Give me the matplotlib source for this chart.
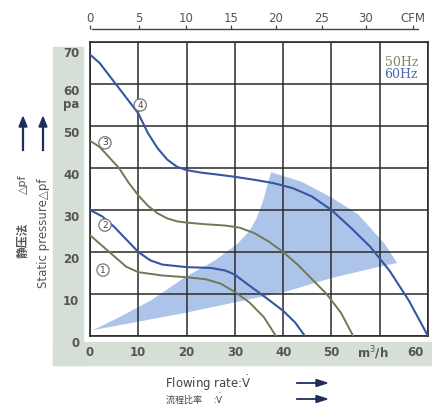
import matplotlib.pyplot as plt
from matplotlib.patches import Rectangle, Polygon

plt.rcParams['font.family'] = ['DejaVu Sans', 'Noto Sans CJK SC']

# Daten (m3/h , pa)
q4 = [0, 2, 5, 8, 10, 12, 14, 16, 18, 20, 23, 26, 30, 34, 38, 42, 46, 50, 54, 58, 62, 66, 70]
p4 = [67, 65, 60.5, 56, 53, 48.3, 44.7, 42, 40.3, 39.5, 38.9, 38.5, 37.9, 37.2, 36.4, 35.2, 33.2, 30, 25.8, 21.3, 15.6, 8.5, 0]

q3 = [0, 2, 4, 6, 8, 10, 12, 14, 16, 18, 20, 24, 28, 31, 34, 37, 40, 43, 46, 49, 52, 54.5]
p3 = [46.5, 45, 42.5, 40, 36.5, 33.5, 31, 29.2, 28, 27.3, 27, 26.6, 26.3, 25.8, 24.5, 22.5, 20, 17, 13.5, 10, 5.5, 0]

q2 = [0, 2.5, 5, 7.5, 10, 12.5, 15, 20, 25, 28, 30, 33, 36, 40, 42.5, 44.5]
p2 = [30, 28.5, 26, 23, 20, 18, 17, 16.4, 16.2, 15.6, 14.6, 12, 9.5, 6, 3.2, 0]

q1 = [0, 2.5, 5, 7.5, 10, 15, 20, 24, 27, 30, 33, 36, 38.5]
p1 = [24, 21.5, 19, 16.5, 15.2, 14.4, 14, 13.5, 12.5, 10.5, 8, 4.5, 0]

# Arbeitsbereich
area_q = [0.6, 5.8, 12.8, 19.7, 25.9, 30.6, 33, 34.5, 35.8, 37.5, 43.9, 50, 55.5, 61, 63.6,
          59.6, 50, 40.4, 30, 19.7]
area_p = [1.4, 4.3, 8.6, 14, 18, 22, 25, 28, 32, 39, 36.7, 33, 29, 22, 17.4,
          16.4, 13.8, 10.5, 8, 5.5]

x_labels = ['0', '10', '20', '30', '40', '50']
y_labels = ['0', '10', '20', '30', '40', '50', '60', '70']
cfm_pos = [0, 10.1, 19.9, 29.2, 38.5, 48.0, 57.1, 66.9]
cfm_labels = ['0', '5', '10', '15', '20', '25', '30', 'CFM']

c50 = '#6f7a55'
c60 = '#3556a0'
grau = '#555555'
navy = '#1f2d5a'

fig = plt.figure(figsize=(4.32, 4.12), dpi=100)

# graues L-Band hinter den Achsenbeschriftungen
band = '#d6dfd6'
fig.patches.append(Rectangle((53 / 432, 47 / 412), 30 / 432, 318 / 412,
                             transform=fig.transFigure, color=band, zorder=-2))
fig.patches.append(Rectangle((53 / 432, 47 / 412), 379 / 432, 23 / 412,
                             transform=fig.transFigure, color=band, zorder=-2))

ax = fig.add_axes([90 / 432, 76 / 412, 338 / 432, 294 / 412])
ax.set_xlim(0, 70)
ax.set_ylim(0, 70)
ax.set_facecolor('white')

ax.add_patch(Polygon(list(zip(area_q, area_p)), closed=True,
                     facecolor='#adc4ea', edgecolor='none', zorder=1))

ax.set_xticks(range(0, 71, 10))
ax.set_yticks(range(0, 71, 10))
ax.grid(True, color='#2a2a2a', lw=1.1, zorder=2)
ax.set_axisbelow(False)
ax.tick_params(length=0, labelbottom=False, labelleft=False)
for s in ax.spines.values():
    s.set_color('#2a2a2a')
    s.set_linewidth(1.2)

ax.plot(q1, p1, color=c50, lw=1.4, zorder=3)
ax.plot(q2, p2, color=c60, lw=1.5, zorder=3)
ax.plot(q3, p3, color=c50, lw=1.4, zorder=3)
ax.plot(q4, p4, color=c60, lw=1.5, zorder=3)

for n, (xq, yp) in zip(['1', '2', '3', '4'], [(2.7, 15.7), (3.1, 26.4), (3.1, 46), (10.4, 55)]):
    ax.text(xq, yp, n, fontsize=6.5, color='#444444', ha='center', va='center', zorder=4,
            bbox=dict(boxstyle='circle,pad=0.18', fc='white', ec='#777777', lw=0.9))

ax.text(61, 65, '50Hz', family='DejaVu Serif', fontsize=9, color='#7d8a5a', va='center')
ax.text(61, 62.2, '60Hz', family='DejaVu Serif', fontsize=9, color='#4a68b0', va='center')

# Achsenbeschriftungen
lab_kw = dict(ha='center', va='center', fontsize=8.5, fontweight='bold',
              color=grau, clip_on=False)
for i, lab in enumerate(x_labels):
    ax.text(i * 10, -4, lab, **lab_kw)
ax.text(58.5, -4, 'm$^3$/h', **lab_kw)
ax.text(67.3, -4, '60', **lab_kw)
lab_kw['ha'] = 'right'
for i, lab in enumerate(y_labels):
    ax.text(-2.2, i * 10 - 1.7 if i < 7 else 67.3, lab, **lab_kw)
ax.text(-2.2, 55.2, 'pa', **lab_kw)

# obere CFM-Achse
top = ax.secondary_xaxis('top')
top.set_xticks(cfm_pos)
top.set_xticklabels(cfm_labels)
top.tick_params(direction='out', length=3, width=0.9, color='#444444',
                labelsize=8.5, labelcolor=grau, pad=0.5)
top.spines['top'].set_position(('outward', 9))
top.spines['top'].set_bounds(0.5, 68)
top.spines['top'].set_color('#444444')
top.spines['top'].set_linewidth(1.0)

# linke Beschriftung mit Pfeilen
for xp in [23, 43]:
    fig.add_artist(plt.Line2D([xp / 432, xp / 432], [262 / 412, 287 / 412],
                              color=navy, lw=1.6, transform=fig.transFigure))
    fig.add_artist(Polygon([(xp / 432 - 4 / 432, 285 / 412), (xp / 432 + 4 / 432, 285 / 412),
                            (xp / 432, 295 / 412)], closed=True, color=navy,
                           transform=fig.transFigure))
fig.text(23 / 432, 1 - 184 / 412, '\u25b3pf', rotation=90, ha='center', va='center',
         fontsize=8, color=grau)
fig.text(23 / 432, 1 - 240 / 412, '静压法', rotation=90, ha='center', va='center',
         fontsize=8.5, color=grau, family=['Noto Sans CJK SC', 'DejaVu Sans'], fontweight='bold')
fig.text(43 / 432, 1 - 233 / 412, 'Static pressure\u25b3pf', rotation=90, ha='center',
         va='center', fontsize=8.5, color=grau)

# untere Beschriftung
fig.text(165 / 432, 1 - 383 / 412, 'Flowing rate:$\\dot{\\mathrm{V}}$', ha='left', va='center',
         fontsize=8.5, color='#444444')
fig.text(165 / 432, 1 - 399 / 412, '流程比率      :$\\dot{\\mathrm{V}}$', ha='left', va='center',
         fontsize=6.5, color='#444444', family=['Noto Sans CJK SC', 'DejaVu Sans'])
for yp in [383, 399]:
    fig.add_artist(plt.Line2D([297 / 432, 318 / 432], [1 - yp / 412, 1 - yp / 412],
                              color=navy, lw=1.3, transform=fig.transFigure))
    fig.add_artist(Polygon([(316 / 432, 1 - (yp - 3.5) / 412), (316 / 432, 1 - (yp + 3.5) / 412),
                            (327 / 432, 1 - yp / 412)], closed=True, color=navy,
                           transform=fig.transFigure))

fig.savefig('out.png', dpi=100)
